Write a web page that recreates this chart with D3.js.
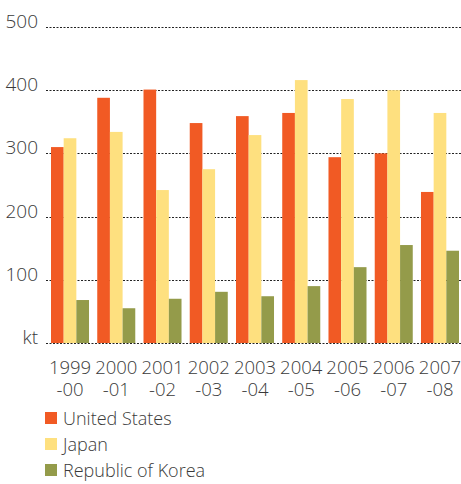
<!DOCTYPE html>
<html>
<head>
<meta charset="utf-8">
<script src="https://cdn.jsdelivr.net/npm/d3@7"></script>
<style>
  body { margin: 0; background: #fff; }
  svg text { font-family: "Open Sans", sans-serif; font-weight: 300; fill: #3a3a3a; }
</style>
</head>
<body>
<div id="chart"></div>
<script>
const years = ["1999", "2000", "2001", "2002", "2003", "2004", "2005", "2006", "2007"];
const yearsEnd = ["-00", "-01", "-02", "-03", "-04", "-05", "-06", "-07", "-08"];
const seriesNames = ["United States", "Japan", "Republic of Korea"];
const unitedStates = [310, 388, 401, 348, 359, 364, 294, 300, 239];
const japan = [324, 334, 242, 275, 329, 416, 386, 400, 364];
const korea = [68, 55, 70, 81, 74, 90, 120, 155, 146];
const yTicks = [100, 200, 300, 400, 500];
const colors = ["#f15a24", "#fee07f", "#949b4a"];

const width = 461;
const height = 484;

const svg = d3.select("#chart")
    .append("svg")
    .attr("width", width)
    .attr("height", height);

const seriesValues = [unitedStates, japan, korea];
const data = years.map((yr, i) => ({
    year: yr,
    values: seriesValues.map((s) => s[i]),
}));

// x scale for groups, inner scale for the three bars
const x = d3.scaleBand()
    .domain(years)
    .range([51, 459])
    .paddingInner(0.178)
    .paddingOuter(0);

const xInner = d3.scaleBand()
    .domain(d3.range(seriesNames.length))
    .range([0, x.bandwidth()]);

const y = d3.scaleLinear()
    .domain([0, 500])
    .range([343, 27]);

// dotted gridlines (incl. the zero line)
svg.append("g")
    .selectAll("line")
    .data([0].concat(yTicks))
    .enter()
    .append("line")
    .attr("x1", 46)
    .attr("x2", width)
    .attr("y1", (d) => Math.round(y(d)) + 0.5)
    .attr("y2", (d) => Math.round(y(d)) + 0.5)
    .attr("stroke", "#222")
    .attr("stroke-width", 1)
    .attr("stroke-dasharray", "2,1.5");

// y labels
svg.append("g")
    .selectAll("text")
    .data(yTicks)
    .enter()
    .append("text")
    .attr("x", 38)
    .attr("y", (d) => y(d) + 1)
    .attr("text-anchor", "end")
    .style("font-size", "19px")
    .text((d) => d);

svg.append("text")
    .attr("x", 38)
    .attr("y", y(0) + 1)
    .attr("text-anchor", "end")
    .style("font-size", "19px")
    .text("kt");

// bars
const group = svg.append("g")
    .selectAll("g")
    .data(data)
    .enter()
    .append("g")
    .attr("transform", (d) => `translate(${x(d.year)},0)`);

group.selectAll("rect")
    .data((d) => d.values)
    .enter()
    .append("rect")
    .attr("x", (d, i) => xInner(i))
    .attr("width", xInner.bandwidth())
    .attr("y", (d) => y(d))
    .attr("height", (d) => y(0) - y(d))
    .attr("fill", (d, i) => colors[i]);

// x labels, two lines
const xLabels = svg.append("g")
    .selectAll("text")
    .data(years)
    .enter()
    .append("text")
    .attr("text-anchor", "middle")
    .style("font-size", "18.5px")
    .attr("transform", (d) => `translate(${x(d) + x.bandwidth() / 2},0)`);

xLabels.append("tspan")
    .attr("x", 0)
    .attr("y", 374)
    .text((d) => d);

xLabels.append("tspan")
    .attr("x", 0)
    .attr("y", 396)
    .text((d, i) => yearsEnd[i]);

// legend
const legend = svg.append("g")
    .selectAll("g")
    .data(seriesNames)
    .enter()
    .append("g")
    .attr("transform", (d, i) => `translate(45,${412 + i * 26})`);

legend.append("rect")
    .attr("width", 12)
    .attr("height", 12)
    .attr("fill", (d, i) => colors[i]);

legend.append("text")
    .attr("x", 18)
    .attr("y", 13)
    .style("font-size", "18px")
    .text((d) => d);
</script>
</body>
</html>
